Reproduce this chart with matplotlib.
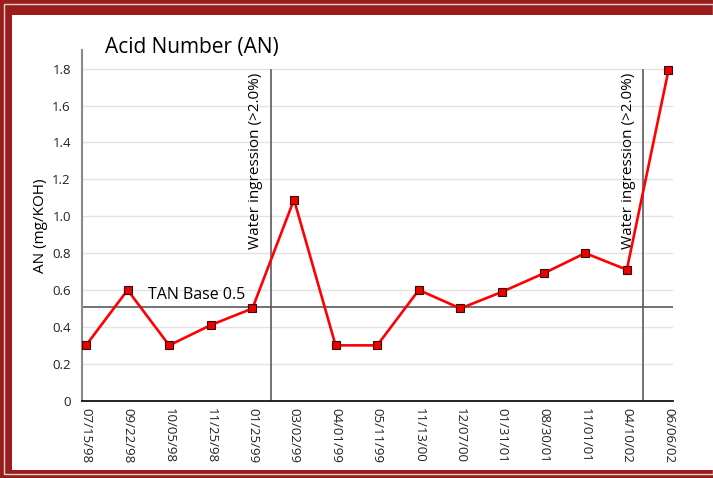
import numpy as np
import matplotlib
matplotlib.use("Agg")
import matplotlib.pyplot as plt
from matplotlib.patches import Rectangle

# data
dates = ["07/15/98", "09/22/98", "10/05/98", "11/25/98", "01/25/99", "03/02/99",
         "04/01/99", "05/11/99", "11/13/00", "12/07/00", "01/31/01", "08/30/01",
         "11/01/01", "04/10/02", "06/06/02"]
an_values = [0.30, 0.60, 0.30, 0.41, 0.50, 1.09, 0.30, 0.30, 0.60, 0.50,
             0.59, 0.69, 0.80, 0.71, 1.79]
tan_base = 0.51
water_events = [4.45, 13.4]   # between sample dates
y_ticks = [0, 0.2, 0.4, 0.6, 0.8, 1.0, 1.2, 1.4, 1.6, 1.8]
y_tick_labels = ["0", "0.2", "0.4", "0.6", "0.8", "1.0", "1.2", "1.4", "1.6", "1.8"]

plt.rcParams['font.family'] = ['Open Sans', 'DejaVu Sans']

fig = plt.figure(figsize=(7.13, 4.78), dpi=100)
fig.patch.set_facecolor('#9a1c1c')
# white slide panel behind the chart
fig.patches.append(Rectangle((4/713, 1-474/478), 709/713, 470/478, transform=fig.transFigure,
                             facecolor='none', edgecolor='#d8d8d8', lw=1.0, zorder=-3))
fig.patches.append(Rectangle((12/713, 1-470/478), 701/713, 455/478, transform=fig.transFigure,
                             facecolor='white', edgecolor='none', zorder=-2))

ax = fig.add_axes([82/713, 1-400.7/478, 591/713, 350.5/478])
ax.set_zorder(1)
ax.set_facecolor('white')
x = np.arange(len(dates))

ax.set_ylim(0, 1.9)
ax.set_xlim(-0.096, 14.11)
ax.set_yticks(y_ticks)
ax.set_yticklabels(y_tick_labels)
ax.set_xticks(x)
ax.set_xticklabels(dates, rotation=270, ha='center', va='top')
ax.tick_params(axis='both', length=0, labelsize=9.5, colors='#222222')
ax.tick_params(axis='x', pad=5)
ax.tick_params(axis='y', pad=8)

for t in y_ticks[1:]:
    ax.axhline(t, color='#e3e3e3', lw=1.0, zorder=1)

ax.axhline(tan_base, color='#5a5a5a', lw=1.2, zorder=2)
for xv in water_events:
    ax.plot([xv, xv], [0, 1.79], color='#5a5a5a', lw=1.2, zorder=2)

ax.plot(x, an_values, color='#ff0000', lw=1.9, marker='s', markersize=6,
        markerfacecolor='#ee0000', markeredgecolor='#3a0a0a', markeredgewidth=0.8, zorder=4)

for sp in ['top', 'right']:
    ax.spines[sp].set_visible(False)
ax.spines['left'].set_color('#8a8a8a')
ax.spines['left'].set_linewidth(1.5)
ax.spines['bottom'].set_color('#111111')
ax.spines['bottom'].set_linewidth(1.3)

ax.set_ylabel('AN (mg/KOH)', fontsize=11, labelpad=3)
ax.text(1.5, 0.575, 'TAN Base 0.5', fontsize=11.5, va='center', ha='left')
for xv in water_events:
    ax.text(xv - 0.37, 1.78, 'Water ingression (>2.0%)', rotation=90, fontsize=11,
            ha='center', va='top')

fig.text(105/713, 1-47/478, 'Acid Number (AN)', fontsize=15, va='center', ha='left')

fig.savefig('out.png', dpi=100, facecolor=fig.get_facecolor())
